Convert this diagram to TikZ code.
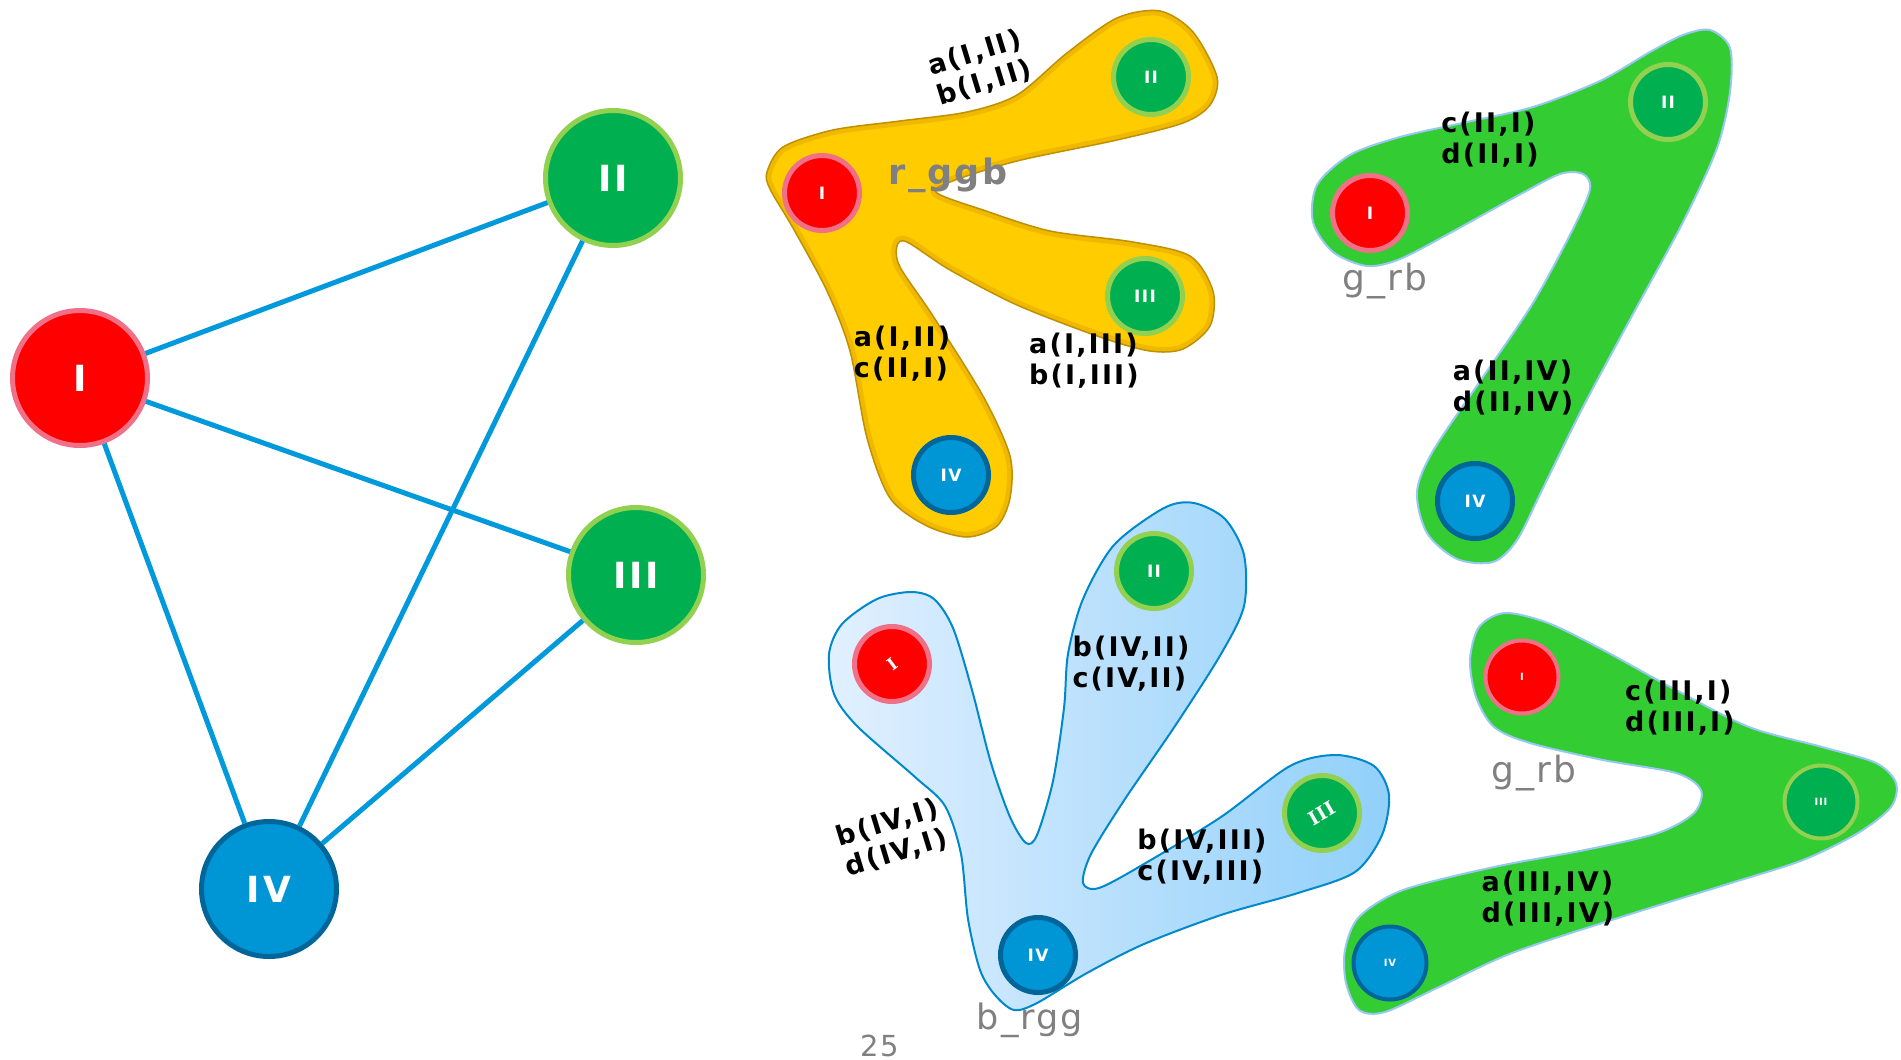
\documentclass[tikz,border=0pt]{standalone}
\usepackage{fontspec}
\setmainfont{DejaVu Sans}
\newfontfamily\vertexfont{DejaVu Sans}[LetterSpace=8]
\newfontfamily\slabfont{DejaVu Serif}[LetterSpace=4]
\newfontfamily\pairfont{DejaVu Sans}[LetterSpace=8]
\newfontfamily\tagfont{DejaVu Sans}[LetterSpace=6]
\usepackage{tikz}
\usetikzlibrary{shapes, positioning}
\definecolor{nodered}{RGB}{255,0,0}
\definecolor{noderedrim}{RGB}{240,112,136}
\definecolor{nodegreen}{RGB}{0,176,80}
\definecolor{nodegreenrim}{RGB}{146,208,80}
\definecolor{nodeblue}{RGB}{0,150,214}
\definecolor{nodebluerim}{RGB}{0,102,153}
\definecolor{linkblue}{RGB}{0,153,219}
\definecolor{blobyellow}{RGB}{255,204,0}
\definecolor{blobyellowband}{RGB}{240,184,0}
\definecolor{blobyellowrim}{RGB}{190,145,0}
\definecolor{blobgreen}{RGB}{51,204,51}
\definecolor{blobgreenrim}{RGB}{150,200,240}
\definecolor{blobblueleft}{RGB}{225,240,255}
\definecolor{blobblueright}{RGB}{145,208,250}
\definecolor{blobbluerim}{RGB}{0,136,204}
\definecolor{taggray}{RGB}{128,128,128}
\def\yellowoutline{plot[smooth cycle] coordinates {(767,172) (783,147) (833,130) (900,121) (967,112) (1017,95) (1067,53) (1117,18) (1160,11) (1193,32) (1217,77) (1210,105) (1183,123) (1117,140) (1017,161) (950,182) (937,193) (983,210) (1050,231) (1133,242) (1190,256) (1213,291) (1210,326) (1183,349) (1150,351) (1100,337) (1017,305) (950,270) (907,242) (897,246) (900,267) (933,316) (983,396) (1010,456) (1010,498) (997,526) (967,537) (927,526) (890,498) (867,438) (850,351) (827,291) (793,228) (770,189)}}

\begin{document}
\begin{tikzpicture}[x=1pt, y=-1pt,
    vertex/.style={circle, inner sep=0pt, line width=5pt, minimum size=135pt, text=white, font=\vertexfont\bfseries\fontsize{36}{36}\selectfont},
    minivertex/.style={vertex, minimum size=75pt, font=\vertexfont\bfseries\fontsize{17}{17}\selectfont},
    tinyvertex/.style={vertex, minimum size=73pt, line width=4pt, font=\vertexfont\bfseries\fontsize{10}{10}\selectfont},
    rednode/.style={fill=nodered, draw=noderedrim},
    greennode/.style={fill=nodegreen, draw=nodegreenrim},
    bluenode/.style={fill=nodeblue, draw=nodebluerim},
    link/.style={draw=linkblue, line width=5pt},
    pair/.style={inner sep=0pt, align=left, font=\pairfont\bfseries\fontsize{27}{31}\selectfont},
    tag/.style={inner sep=0pt, text=taggray, font=\tagfont\fontsize{36}{36}\selectfont},
    greenblob/.style={fill=blobgreen, draw=blobgreenrim, line width=2pt},
    blueblob/.style={left color=blobblueleft, right color=blobblueright, draw=blobbluerim, line width=2pt}
]
\fill[white] (0,0) rectangle (1901,1060);
\useasboundingbox (0,0) rectangle (1901,1060);

\node[vertex, rednode] (I) at (80,378) {I};
\node[vertex, greennode] (II) at (613,178) {II};
\node[vertex, greennode] (III) at (636,575) {III};
\node[vertex, bluenode] (IV) at (269,889) {IV};
\draw[link] (I) -- (II) (I) -- (III) (I) -- (IV) (II) -- (IV) (III) -- (IV);

\fill[blobyellow] \yellowoutline;
\begin{scope}
  \clip \yellowoutline;
  \draw[blobyellowband, line width=10pt] \yellowoutline;
\end{scope}
\draw[blobyellowrim, line width=1.5pt] \yellowoutline;
\node[minivertex, rednode] (yI) at (822,193) {I};
\node[minivertex, greennode] (yII) at (1151,77) {II};
\node[minivertex, greennode] (yIII) at (1145,296) {III};
\node[minivertex, bluenode] (yIV) at (951,475) {IV};
\node[tag, font=\tagfont\bfseries\fontsize{35}{35}\selectfont] (rggb) at (948,175) {r\_ggb};
\node[pair, rotate=17] (yab) at (980,68) {a(I,II)\\b(I,II)};
\node[pair] (yac) at (902,354) {a(I,II)\\c(II,I)};
\node[pair] (yab3) at (1084,361) {a(I,III)\\b(I,III)};

\draw[greenblob] plot[smooth cycle] coordinates {(1710,30) (1730,48) (1730,92) (1717,148) (1683,222) (1633,314) (1583,407) (1543,488) (1517,540) (1493,562) (1457,559) (1427,533) (1417,492) (1433,451) (1483,377) (1533,303) (1573,229) (1590,189) (1583,174) (1560,174) (1517,196) (1450,233) (1400,259) (1367,266) (1333,252) (1313,222) (1317,185) (1350,155) (1400,137) (1467,122) (1533,107) (1600,81) (1650,52) (1683,35)};
\node[minivertex, rednode] (tI) at (1370,213) {I};
\node[minivertex, greennode] (tII) at (1668,102) {II};
\node[minivertex, bluenode] (tIV) at (1475,501) {IV};
\node[tag] (grb) at (1385,281) {g\_rb};
\node[pair] (tcd) at (1490,140) {c(II,I)\\d(II,I)};
\node[pair] (tad) at (1513,388) {a(II,IV)\\d(II,IV)};

\draw[blueblob] plot[smooth cycle] coordinates {(911,592) (934,599) (953,628) (972,690) (991,763) (1010,817) (1026,843) (1037,835) (1053,781) (1064,708) (1068,654) (1083,599) (1114,545) (1164,508) (1194,503) (1225,519) (1244,555) (1244,606) (1221,654) (1175,726) (1125,799) (1091,854) (1083,883) (1099,888) (1144,864) (1221,817) (1290,766) (1336,755) (1374,766) (1389,795) (1382,835) (1355,872) (1298,893) (1221,915) (1144,944) (1087,973) (1037,1003) (1014,1010) (995,995) (980,970) (968,919) (961,854) (945,806) (915,777) (857,726) (834,694) (829,654) (842,624) (877,599)};
\node[minivertex, rednode, font=\slabfont\bfseries\fontsize{17}{17}\selectfont] (bI) at (892,664) {\rotatebox{37}{I}};
\node[minivertex, greennode] (bII) at (1154,571) {II};
\node[minivertex, greennode, font=\slabfont\bfseries\fontsize{19}{19}\selectfont] (bIII) at (1322,813) {\rotatebox{30}{III}};
\node[minivertex, bluenode] (bIV) at (1038,955) {IV};
\node[tag, font=\tagfont\fontsize{35}{35}\selectfont] (brgg) at (1030,1020) {b\_rgg};
\node[tag, font=\tagfont\fontsize{29}{29}\selectfont] (page) at (880,1046) {25};
\node[pair] (bbc) at (1131,664) {b(IV,II)\\c(IV,II)};
\node[pair, rotate=17] (bbd) at (892,838) {b(IV,I)\\d(IV,I)};
\node[pair] (bbc3) at (1202,857) {b(IV,III)\\c(IV,III)};

\draw[greenblob] plot[smooth cycle] coordinates {(1505,613) (1548,623) (1603,650) (1676,690) (1749,727) (1822,747) (1876,763) (1896,783) (1891,807) (1858,833) (1803,860) (1731,883) (1621,917) (1512,953) (1439,987) (1385,1012) (1359,1010) (1346,983) (1345,950) (1359,917) (1403,890) (1494,867) (1585,850) (1658,833) (1694,813) (1701,790) (1676,773) (1603,760) (1530,743) (1494,727) (1476,697) (1470,660) (1479,627)};
\node[tinyvertex, rednode] (sI) at (1522,677) {I};
\node[tinyvertex, greennode] (sIII) at (1821,802) {III};
\node[tinyvertex, bluenode] (sIV) at (1390,963) {IV};
\node[tag] (grb2) at (1534,773) {g\_rb};
\node[pair] (scd) at (1680,708) {c(III,I)\\d(III,I)};
\node[pair] (sad) at (1548,899) {a(III,IV)\\d(III,IV)};
\end{tikzpicture}
\end{document}
